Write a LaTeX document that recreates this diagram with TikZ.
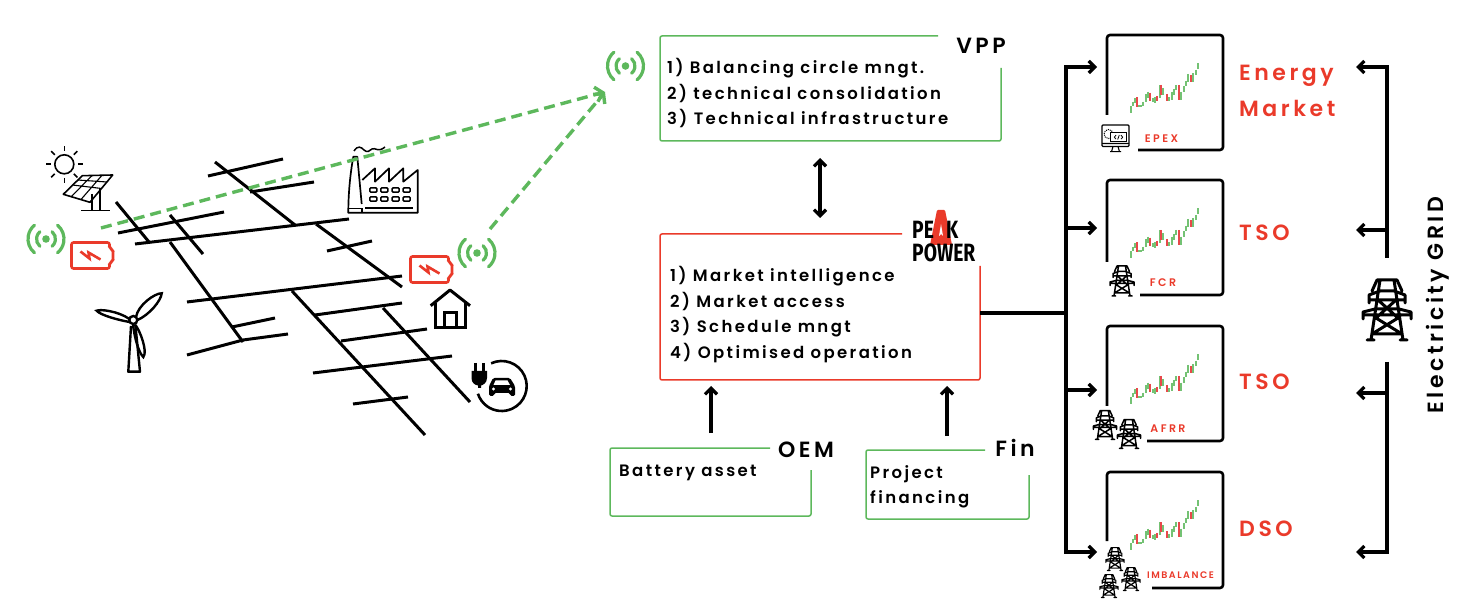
\documentclass[tikz,border=0pt]{standalone}
\usepackage{fontspec}
\usetikzlibrary{arrows.meta, calc}
\newfontfamily\montfont[LetterSpace=16,BoldFont={Poppins SemiBold}]{Poppins}
\newfontfamily\logofont{Fira Sans}
\definecolor{sigGreen}{HTML}{5DB85C}
\definecolor{sigRed}{HTML}{EA3A2A}
\definecolor{candleGreen}{HTML}{74C274}
\definecolor{candleRed}{HTML}{E8484A}

\newcommand{\topgapframe}[4]{% node, colour, gap along the top, gap down the side
  \draw[#2, line width=1.5pt, rounded corners=2pt] ($(#1.north east)+(-#3,0)$) -- (#1.north west) -- (#1.south west) -- (#1.south east) -- ($(#1.north east)+(0,#4)$);}
\newcommand{\bottomgapframe}[3]{% node, gap up the side, gap along the bottom
  \draw[black, line width=2.6pt, rounded corners=3pt] ($(#1.south west)+(0,-#2)$) -- (#1.north west) -- (#1.north east) -- (#1.south east) -- ($(#1.south west)+(#3,0)$);}

\tikzset{
  >={Straight Barb[length=6pt,width=12pt]},
  gridline/.style={line width=3pt},
  linkarrow/.style={->, line width=3.2pt},
  dashlink/.style={-{Straight Barb[length=7pt,width=15pt]}, sigGreen, line width=3.4pt, dash pattern=on 11pt off 6pt},
  area/.style={inner sep=0pt, outer sep=0pt},
  boxtext/.style={inner sep=0pt, anchor=north west, align=left, font=\montfont\addfontfeature{LetterSpace=14.5}\bfseries\fontsize{16.5}{25.6}\selectfont},
  boxhead/.style={inner sep=0pt, font=\montfont\bfseries\fontsize{22}{22}\selectfont},
  marketlabel/.style={inner sep=0pt, anchor=west, text=sigRed, align=left, font=\montfont\bfseries\fontsize{22}{36}\selectfont},
  chartlabel/.style={inner sep=0pt, text=sigRed, font=\montfont\addfontfeature{LetterSpace=22}\bfseries\fontsize{11}{11}\selectfont},
  wifi/.pic={
    \fill[sigGreen] (0,0) circle (3.8);
    \foreach \r in {9.5,18} {
      \draw[sigGreen, line width=3.2pt, line cap=round] (-50:\r) arc[start angle=-50, end angle=50, radius=\r];
      \draw[sigGreen, line width=3.2pt, line cap=round] (130:\r) arc[start angle=130, end angle=230, radius=\r];
    }
  },
  battery/.pic={
    \draw[sigRed, line width=2.6pt, rounded corners=2pt] (0,0) -- (38,0) -- (38,6) -- (41.5,7) -- (41.5,19) -- (38,20) -- (38,26) -- (0,26) -- cycle;
    \draw[sigRed, line width=2.6pt] (9,9) -- (18,16) -- (17,10) -- (29,17);
  },
  pylon/.pic={
    \draw[line cap=round, line join=round] (-15,-19) -- (-10,-30) -- (10,-30) -- (15,-19)
      (-18,-7) -- (-18,-15) -- (-7,-19) -- (7,-19) -- (18,-15) -- (18,-7)
      (-18,-10) -- (18,-10)
      (-24,9) -- (-24,2) -- (-12,-1) -- (12,-1) -- (24,2) -- (24,9)
      (-24,5) -- (24,5)
      (-7,-30) -- (-16,30) (7,-30) -- (16,30)
      (-9,-10) -- (11,8) (9,-10) -- (-11,8)
      (-11,8) -- (15,24) (11,8) -- (-15,24)
      (-20,30) -- (-13,30) (13,30) -- (20,30) (-15,24) -- (15,24);
  },
  candles/.pic={
    \foreach \cx/\ctop/\cbot/\ccol in {24/71/77.7/candleGreen,26.3/66.7/71/candleGreen,28.3/63.3/68.3/candleGreen,
      30.3/62.3/72.3/candleRed,32.3/70/72.3/candleGreen,34.3/70/72.3/candleGreen,36.3/66.7/71/candleGreen,
      38.7/59/66.7/candleGreen,41/56.7/63.3/candleGreen,43.3/57.7/66/candleRed,45.7/63.3/66.7/candleGreen,
      47.7/62.3/68.3/candleGreen,50.3/61/66/candleRed,52.7/50/63.3/candleGreen,54/50/60/candleRed,
      56.3/53.3/60/candleGreen,60/59/65.7/candleRed,62.3/62.3/66/candleGreen,64.7/56.7/65/candleGreen,
      67/54/60/candleGreen,69.3/50/55/candleGreen,71.7/50/65/candleRed,74/56.7/65/candleGreen,
      76.7/51/56.7/candleGreen,79/45.7/50.7/candleGreen,81.3/39/46.7/candleGreen,83.7/40/47.3/candleRed,
      86/38.3/47.3/candleGreen,88.7/35/40/candleGreen,91/28.3/34/candleGreen}
    \draw[\ccol, line width=1.8pt] (\cx,\ctop) -- (\cx,\cbot);
  }
}

\begin{document}
\begin{tikzpicture}[x=1pt,y=-1pt]
  \useasboundingbox (0,0) rectangle (1460,612);

  % street grid
  \foreach \ax/\ay/\bx/\by in {116/202/149/242, 118/233/224/212, 135/244/349/219, 170/215/203/254,
      170/242/243/342, 187/302/402/276, 232/327/275/318, 215/162/295/225, 208/176/283/159,
      250/192/314/182, 316/224/402/287, 327/251/372/241, 292/291/425/435, 315/315/402/303,
      383/308/470/402, 341/341/427/329, 313/373/452/356, 353/404/408/397}
    \draw[gridline] (\ax,\ay) -- (\bx,\by);
  \draw[gridline] (187,355) -- (243,340) -- (288,334);

  % sun and panel
  \draw[line width=1.6pt] (64.3,164.3) circle (9.5);
  \foreach \a in {0,45,...,315}
    \draw[line width=1.6pt] (64.3,164.3) ++(\a:13.5) -- ++(\a:5);
  \draw[line width=1.6pt, line join=round] (82.3,175.7) -- (112.7,175) -- (90,202.3) -- (63.3,194.3) -- cycle;
  \draw[line width=1.1pt] (72.5,185) -- (101.5,188.5) (77.5,180) -- (107,182) (92,175.5) -- (71,197) (102,175.3) -- (81,199.5);
  \draw[line width=1.6pt] (91.7,194) -- (91.7,210.7) (100,188) -- (100,210.7) (81,210.7) -- (110.3,210.7);

  % wind turbine
  \draw[line width=2.4pt, line join=round] (131,326) -- (128.3,371.7) -- (140,371.7) -- (135.5,326);
  \draw[line width=2.4pt] (133.3,320) circle (4);
  \draw[line width=2.4pt] (136,317) .. controls (138,305) and (155,293) .. (161.7,293.3) .. controls (161,301) and (149,315) .. (137.5,320);
  \draw[line width=2.4pt] (129.5,319) .. controls (118,311) and (100,309) .. (96.7,310.7) .. controls (100,315) and (118,320) .. (129.5,322);
  \draw[line width=2.4pt] (135,324.5) .. controls (140,330) and (148,352) .. (143.3,357) .. controls (139,353) and (135,340) .. (133,325);

  % factory
  \draw[line width=1.7pt, line join=round] (361.7,204) -- (357.3,156.7) -- (353.3,156.7) .. controls (350,175) and (348.3,195) .. (348.3,212.7) -- (417.7,212.7) -- (417.7,170) -- (403.3,181.7) -- (403.3,168.3) -- (389,181.7) -- (389,168.3) -- (375,181.7) -- (375,168.3) -- (362.3,180);
  \draw[line width=1.7pt] (348.3,208.5) -- (361.7,208.5) -- (361.7,212.7) (365,208.3) -- (413.3,208.3);
  \foreach \wx in {373.3,384.3,395.7,406.7}
    \foreach \wy in {190,199}
      \draw[line width=1.5pt, rounded corners=1pt] (\wx-3.5,\wy-2.2) rectangle (\wx+3.5,\wy+2.2);
  \draw[line width=1.5pt] (354,151) .. controls (358,145) and (361,147) .. (364,150) .. controls (367,153) and (370,151) .. (372,149) .. controls (375,147) and (378,153) .. (385,147);

  % house
  \draw[line width=3pt, line join=round] (430.7,305.7) -- (450,290) -- (470,305.7);
  \draw[line width=3pt] (435,303) -- (435,327.7) -- (465.3,327.7) -- (465.3,303);
  \draw[line width=3pt] (444,327.7) -- (444,312.7) -- (456.7,312.7) -- (456.7,327.7);

  % charging point
  \draw[line width=2.6pt] (501.7,386) ++(-115:25) arc[start angle=-115, end angle=162, radius=25];
  \draw[line width=2.2pt] (475.5,363) -- (475.5,372) (483.5,363) -- (483.5,372);
  \fill (471.5,371) -- (487,371) -- (487,378) .. controls (487,383) and (483,385) .. (481,385.5) -- (481,388) -- (478,388) -- (478,385.5) .. controls (475,385) and (471.5,383) .. (471.5,378) -- cycle;
  \fill[rounded corners=1.5pt] (489,396) -- (489,386) -- (493,378) -- (510,378) -- (515,386) -- (515,396) -- (510,396) -- (510,393) -- (494,393) -- (494,396) -- cycle;
  \fill[white] (493.5,385) -- (495.5,380.5) -- (507.5,380.5) -- (510,385) -- cycle;
  \fill[white] (493.5,389) circle (1.6) (510.5,389) circle (1.6);

  % radios and batteries
  \pic (wifivpp) at (625.5,66) {wifi};
  \pic (wifileft) at (46,239) {wifi};
  \pic (wifiright) at (477,253) {wifi};
  \pic (batleft) at (71.5,242.5) {battery};
  \pic (batright) at (410.5,256.5) {battery};

  \coordinate (dashtarget) at (605,92);
  \coordinate (dashleft) at (101,228);
  \coordinate (dashright) at (490,229);
  \draw[dashlink] (dashleft) -- (dashtarget);
  \draw[dashlink] (dashright) -- (dashtarget);

  % boxes
  \node[area, minimum width=341pt, minimum height=105pt] (vppbox) at (830.5,88.5) {};
  \node[area, minimum width=320pt, minimum height=146pt] (peakbox) at (820,307) {};
  \node[area, minimum width=201pt, minimum height=68pt] (oembox) at (710.5,482) {};
  \node[area, minimum width=163pt, minimum height=69pt] (finbox) at (947.5,484.5) {};
  \topgapframe{vppbox}{sigGreen}{63}{32}
  \topgapframe{peakbox}{sigRed}{78}{32}
  \topgapframe{oembox}{sigGreen}{41}{22}
  \topgapframe{finbox}{sigGreen}{44}{25}

  \node[boxhead] (vpphead) at (981,46) {VPP};
  \node[boxhead] (oemhead) at (806,450) {OEM};
  \node[boxhead] (finhead) at (1015,448) {Fin};
  \node[boxtext] (vpptext) at (667,58) {1) Balancing circle mngt.\\2) technical consolidation\\3) Technical infrastructure};
  \node[boxtext] (peaktext) at (670,266) {1) Market intelligence\\2) Market access\\3) Schedule mngt\\4) Optimised operation};
  \node[boxtext] (oemtext) at (619,465) {Battery asset};
  \node[boxtext] (fintext) at (870,465) {Project\\financing};

  % logo
  \fill[sigRed, rounded corners=1pt] (937,210) -- (945,210) -- (952,245) -- (930,245) -- cycle;
  \fill[white] (941,224) -- (943,236) -- (941,234) -- (939,236) -- cycle;
  \node[inner sep=0pt, anchor=west] (logoa) at (912,229.5) {\logofont\bfseries\fontsize{25}{25}\selectfont\scalebox{.77}[1]{PE}};
  \node[inner sep=0pt, anchor=west] (logob) at (946,229.5) {\logofont\bfseries\fontsize{25}{25}\selectfont\scalebox{.77}[1]{K}};
  \node[inner sep=0pt, anchor=west] (logoc) at (912,253) {\logofont\bfseries\fontsize{25}{25}\selectfont\scalebox{.77}[1]{POWER}};

  % links between boxes
  \coordinate (vpplink) at (820,158);
  \coordinate (peaklink) at (820,218);
  \coordinate (oemout) at (711,433);
  \coordinate (oemin) at (711,386);
  \coordinate (finout) at (947,436);
  \coordinate (finin) at (947,386);
  \draw[linkarrow, <->] (vpplink) -- (peaklink);
  \draw[linkarrow] (oemout) -- (oemin);
  \draw[linkarrow] (finout) -- (finin);

  % market charts
  \node[area, minimum width=116pt, minimum height=115pt] (epexbox) at (1165,92.5) {};
  \node[area, minimum width=116pt, minimum height=115pt] (fcrbox) at (1165,237.5) {};
  \node[area, minimum width=116pt, minimum height=115pt] (afrrbox) at (1165,383.5) {};
  \node[area, minimum width=116pt, minimum height=116pt] (imbbox) at (1165,530) {};
  \bottomgapframe{epexbox}{35}{31}
  \bottomgapframe{fcrbox}{33}{33}
  \bottomgapframe{afrrbox}{35}{40}
  \bottomgapframe{imbbox}{47}{45}
  \pic (chartepex) at (epexbox.north west) {candles};
  \pic (chartfcr) at (fcrbox.north west) {candles};
  \pic (chartafrr) at (afrrbox.north west) {candles};
  \pic (chartimb) at (imbbox.north west) {candles};
  \node[chartlabel] (epexlabel) at (1161.5,138.5) {EPEX};
  \node[chartlabel] (fcrlabel) at (1163,283) {FCR};
  \node[chartlabel] (afrrlabel) at (1168,429) {AFRR};
  \node[chartlabel, font=\montfont\bfseries\fontsize{9.5}{10}\selectfont] (imblabel) at (1180.5,575) {IMBALANCE};

  % monitor
  \begin{scope}[shift={(1102,125)}]
    \draw[line width=1.1pt, rounded corners=1pt] (0,0) rectangle (27,21.5);
    \draw[line width=1.1pt] (0,18.5) -- (27,18.5) (11,21.5) -- (9.5,26.7) (16,21.5) -- (17.5,26.7) (8,26.7) -- (19,26.7);
    \draw[line width=1pt, densely dotted] (6.5,9) circle (4.5);
    \draw[fill=white, line width=1pt] (8.7,7.7) rectangle (24.3,16.7);
    \draw[line width=.8pt] (14,10.2) -- (12.3,12.2) -- (14,14.2) (19,10.2) -- (20.7,12.2) -- (19,14.2) (17.3,10) -- (15.7,14.5);
  \end{scope}

  % small pylons
  \pic[scale=.5, line width=1.5pt] (pyfcr) at (1122,281) {pylon};
  \pic[scale=.48, line width=1.5pt] (pyafrra) at (1105,425) {pylon};
  \pic[scale=.48, line width=1.5pt] (pyafrrb) at (1129,434) {pylon};
  \pic[scale=.38, line width=1.2pt] (pyimba) at (1115,559) {pylon};
  \pic[scale=.38, line width=1.2pt] (pyimbb) at (1131,579) {pylon};
  \pic[scale=.38, line width=1.2pt] (pyimbc) at (1109,586) {pylon};

  % market labels
  \node[marketlabel] (energylabel) at (1239,90.5) {Energy\\Market};
  \node[marketlabel] (tsoa) at (1239,233) {TSO};
  \node[marketlabel] (tsob) at (1239,382) {TSO};
  \node[marketlabel] (dso) at (1239,529) {DSO};

  % bus to the charts
  \coordinate (busjoin) at (1066,313);
  \coordinate (epexin) at (1097,67);
  \coordinate (fcrin) at (1097,228);
  \coordinate (afrrin) at (1097,390);
  \coordinate (imbin) at (1097,552);
  \draw[line width=3.2pt] (peakbox.east |- busjoin) -- (busjoin);
  \foreach \target in {epexin,fcrin,afrrin,imbin}
    \draw[linkarrow] (busjoin) |- (\target);

  % grid side
  \node[area, minimum width=50pt, minimum height=104pt] (gridpylon) at (1387,310) {};
  \pic[line width=3pt] (pygrid) at (gridpylon.center) {pylon};
  \coordinate (energyin) at (1356,67);
  \coordinate (tsoain) at (1356,230);
  \coordinate (tsobin) at (1356,393);
  \coordinate (dsoin) at (1356,552);
  \draw[linkarrow] (gridpylon.north) |- (energyin);
  \draw[linkarrow] (gridpylon.north) |- (tsoain);
  \draw[linkarrow] (gridpylon.south) |- (tsobin);
  \draw[linkarrow] (gridpylon.south) |- (dsoin);
  \node[inner sep=0pt, rotate=90, font=\montfont\bfseries\fontsize{22}{22}\selectfont] (gridlabel) at (1438,305) {Electricity GRID};
\end{tikzpicture}
\end{document}
